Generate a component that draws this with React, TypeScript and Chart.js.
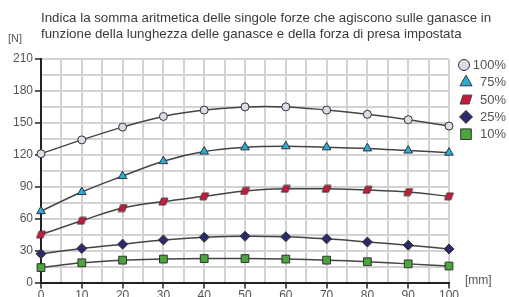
import React, { useEffect, useRef } from "react";
import { Chart, registerables } from "chart.js";
import { drawPoint } from "chart.js/helpers";

Chart.register(...registerables);

const TITLE_LINES = [
  "Indica la somma aritmetica delle singole forze che agiscono sulle ganasce in",
  "funzione della lunghezza delle ganasce e della forza di presa impostata",
];
const Y_UNIT = "[N]";
const X_UNIT = "[mm]";

const LENGTHS = [0, 10, 20, 30, 40, 50, 60, 70, 80, 90, 100];
const SERIES_LABELS = ["100%", " 75%", " 50%", " 25%", " 10%"];
const F100 = [121, 134, 146, 156, 162, 165, 165, 162, 158, 153, 147];
const F75 = [67, 85, 100, 114, 123, 127, 128, 127, 126, 124, 122];
const F50 = [45, 58, 70, 76, 81, 86, 88, 88, 87, 85, 81];
const F25 = [27, 32, 36, 40, 42.5, 43.5, 43, 41, 38, 35, 31.5];
const F10 = [14, 18.5, 21, 22, 22.5, 22.5, 22, 21, 19.5, 17.5, 15.5];

const Y_MIN = 0;
const Y_MAX = 210;
const Y_GRID_STEP = 15;
const Y_LABEL_STEP = 30;
const X_MIN = 0;
const X_MAX = 100;
const X_GRID_STEP = 5;
const X_LABEL_STEP = 10;

const FONT = '"Liberation Sans", Arial, Helvetica, sans-serif';

function makeParallelogram(w: number, h: number, skew: number, fill: string, stroke: string) {
  const c = document.createElement("canvas");
  c.width = w + 2;
  c.height = h + 2;
  const g = c.getContext("2d")!;
  g.beginPath();
  g.moveTo(1 + skew, 1);
  g.lineTo(1 + w, 1);
  g.lineTo(1 + w - skew, 1 + h);
  g.lineTo(1, 1 + h);
  g.closePath();
  g.fillStyle = fill;
  g.fill();
  g.strokeStyle = stroke;
  g.lineWidth = 0.8;
  g.stroke();
  return c;
}

export default function App() {
  const ref = useRef<HTMLCanvasElement>(null);

  useEffect(() => {
    const canvas = ref.current!;
    const border = "#333";
    const redFill = "#c41c3c";
    const paraSmall = makeParallelogram(9, 7, 2.5, redFill, border);
    const paraBig = makeParallelogram(12, 9, 3, redFill, border);

    const toPts = (arr: number[]) => LENGTHS.map((x, i) => ({ x, y: arr[i] }));
    const styles = [
      { data: F100, style: "circle", radius: 4, fill: "#dcdce8", lStyle: "circle", lRadius: 5.5 },
      { data: F75, style: "triangle", radius: 5, fill: "#2aaed8", lStyle: "triangle", lRadius: 7 },
      { data: F50, style: paraSmall, radius: 5, fill: redFill, lStyle: paraBig, lRadius: 6 },
      { data: F25, style: "rectRot", radius: 5, fill: "#2b2b6b", lStyle: "rectRot", lRadius: 6.5 },
      { data: F10, style: "rect", radius: 5.5, fill: "#4ca43c", lStyle: "rect", lRadius: 7.5 },
    ];

    const overlay = {
      id: "overlay",
      afterDraw(chart: any) {
        const ctx = chart.ctx as CanvasRenderingContext2D;
        ctx.save();
        ctx.textBaseline = "middle";
        ctx.textAlign = "left";
        ctx.fillStyle = "#3a3a3a";
        ctx.font = `13.3px ${FONT}`;
        TITLE_LINES.forEach((t, i) => ctx.fillText(t, 41, 18 + i * 16));
        ctx.fillStyle = "#555";
        ctx.font = `11px ${FONT}`;
        ctx.fillText(Y_UNIT, 8, 39);
        ctx.font = `12px ${FONT}`;
        ctx.fillText(X_UNIT, 465, 281);
        // legend
        chart.data.datasets.forEach((ds: any, i: number) => {
          const y = 65 + i * 17.3;
          const s = styles[i];
          ctx.fillStyle = s.fill;
          ctx.strokeStyle = border;
          ctx.lineWidth = 1;
          drawPoint(
            ctx,
            { pointStyle: s.lStyle as any, radius: s.lRadius, rotation: 0, borderWidth: 1 } as any,
            i === 0 ? 464 : 466,
            y
          );
          ctx.fillStyle = "#555";
          ctx.font = `13px ${FONT}`;
          ctx.textAlign = "right";
          ctx.fillText(ds.label.trim(), 506, y + 0.5);
          ctx.textAlign = "left";
        });
        ctx.restore();
      },
    };

    const chart = new Chart(canvas, {
      type: "line",
      data: {
        datasets: styles.map((s, i) => ({
          label: SERIES_LABELS[i],
          data: toPts(s.data),
          borderColor: "#444",
          borderWidth: 1.5,
          tension: 0.4,
          fill: false,
          clip: false as any,
          pointStyle: s.style as any,
          pointRadius: s.radius,
          pointHoverRadius: s.radius,
          pointBackgroundColor: s.fill,
          pointBorderColor: border,
          pointBorderWidth: 1,
        })),
      },
      options: {
        responsive: false,
        animation: false,
        layout: { padding: { left: 0, right: 60, top: 59, bottom: 0 } },
        plugins: {
          legend: { display: false },
          tooltip: { enabled: false },
          title: { display: false },
        },
        scales: {
          x: {
            type: "linear",
            min: X_MIN,
            max: X_MAX,
            afterFit(scale: any) {
              scale.height = 14.5;
            },
            border: { color: "#222", width: 2 },
            grid: {
              color: "#d2d2d2",
              lineWidth: 2,
              drawTicks: true,
              tickLength: 6,
              tickWidth: 1.5,
              tickColor: (c: any) => (c.tick && c.tick.value % X_LABEL_STEP === 0 ? "#222" : "rgba(0,0,0,0)"),
            },
            ticks: {
              stepSize: X_GRID_STEP,
              autoSkip: false,
              maxRotation: 0,
              padding: 0,
              color: "#555",
              font: { family: FONT, size: 12 },
              callback: (v: any) => (Number(v) % X_LABEL_STEP === 0 ? String(v) : ""),
            },
          },
          y: {
            type: "linear",
            min: Y_MIN,
            max: Y_MAX,
            afterFit(scale: any) {
              scale.width = 41;
            },
            border: { color: "#222", width: 2 },
            grid: {
              color: "#d2d2d2",
              lineWidth: 2,
              drawTicks: true,
              tickLength: 6,
              tickWidth: 1.5,
              tickColor: (c: any) => (c.tick && c.tick.value % Y_LABEL_STEP === 0 ? "#222" : "rgba(0,0,0,0)"),
            },
            ticks: {
              stepSize: Y_GRID_STEP,
              autoSkip: false,
              padding: 2,
              color: "#555",
              font: { family: FONT, size: 12 },
              callback: (v: any) => (Number(v) % Y_LABEL_STEP === 0 ? String(v) : ""),
            },
          },
        },
      },
      plugins: [overlay],
    });
    return () => chart.destroy();
  }, []);

  return (
    <div style={{ position: "fixed", left: 0, top: 0, width: 509, height: 297, background: "#fff" }}>
      <canvas ref={ref} width={509} height={297} style={{ display: "block" }} />
    </div>
  );
}
